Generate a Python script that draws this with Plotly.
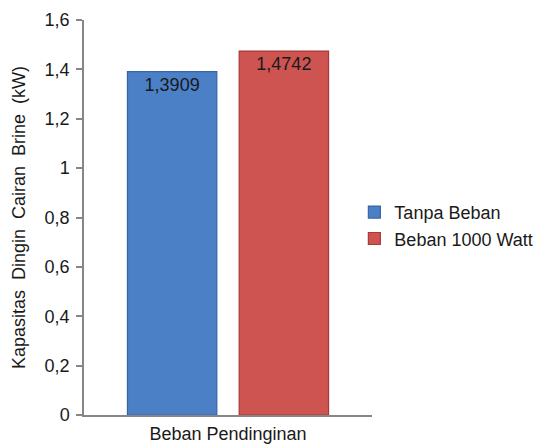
import plotly.graph_objects as go

# Cooling capacity of the brine, with and without a heating load
category = ["Beban Pendinginan"]
series_names = ["Tanpa Beban", "Beban 1000 Watt"]
tanpa_beban = [1.3909]
beban_1000 = [1.4742]
y_ticks = [0, 0.2, 0.4, 0.6, 0.8, 1.0, 1.2, 1.4, 1.6]
y_title_words = ["Kapasitas", "Dingin", "Cairan", "Brine", "(kW)"]

FONT = "Liberation Sans, Arial, sans-serif"
TXT = "#1a1a1a"
AXIS = "#868686"

fig = go.Figure()
for name, vals, fill, edge in [
    (series_names[0], tanpa_beban, "#4b7fc6", "#3566a8"),
    (series_names[1], beban_1000, "#cd5450", "#a83a36"),
]:
    fig.add_trace(go.Bar(
        x=category, y=vals, name=name,
        marker=dict(color=fill, line=dict(color=edge, width=1.2)),
        texttemplate="%{y:.4f}", textposition="inside",
        insidetextanchor="end", textangle=0,
        insidetextfont=dict(family=FONT, size=18, color=TXT),
        hoverinfo="skip",
    ))

fig.update_layout(
    width=550, height=445,
    margin=dict(l=84, r=172, t=20, b=30),
    paper_bgcolor="white", plot_bgcolor="white",
    separators=",.",
    barmode="group", bargap=0.224, bargroupgap=0.2,
    font=dict(family=FONT, size=18, color=TXT),
    showlegend=True,
    legend=dict(
        x=(360 - 84) / 294, xanchor="left",
        y=0.48, yanchor="middle",
        font=dict(family=FONT, size=18, color=TXT),
        itemwidth=30, tracegroupgap=0,
        bgcolor="rgba(0,0,0,0)",
    ),
)
fig.update_xaxes(
    showline=True, linecolor=AXIS, linewidth=1.5,
    showgrid=False, ticks="", automargin=False,
    ticklabelstandoff=2,
    tickfont=dict(family=FONT, size=18, color=TXT),
)
fig.update_yaxes(
    range=[0, 1.6], tickvals=y_ticks,
    showline=True, linecolor=AXIS, linewidth=1.5,
    showgrid=False, zeroline=False,
    ticks="outside", ticklen=6, tickcolor=AXIS, tickwidth=1.5,
    ticklabelstandoff=3, automargin=False,
    tickfont=dict(family=FONT, size=18, color=TXT),
    title=dict(text=" \u00a0".join(y_title_words), standoff=14,
               font=dict(family=FONT, size=18, color=TXT)),
)

fig.write_html("out.html")
